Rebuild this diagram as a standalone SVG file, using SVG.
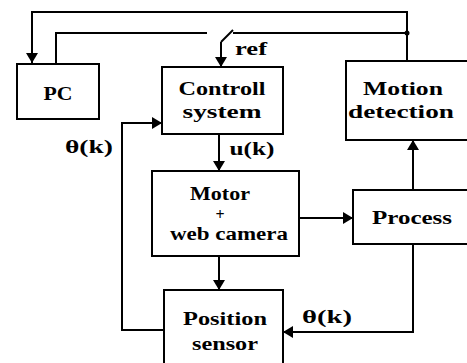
<svg xmlns="http://www.w3.org/2000/svg" width="467" height="363" viewBox="0 0 467 363">
<style>
.box{fill:#fff;stroke:#000;stroke-width:2}
.ln{fill:none;stroke:#000;stroke-width:2}
.t{font-family:"Liberation Serif","Times New Roman",serif;font-weight:bold;font-size:18px;fill:#000;text-anchor:middle}
.a{marker-end:url(#ah)}
</style>
<defs>
<marker id="ah" viewBox="0 0 10 12" refX="10" refY="6" markerWidth="10" markerHeight="12" markerUnits="userSpaceOnUse" orient="auto">
<path d="M0,0 L10,6 L0,12 z" fill="#000"/>
</marker>
</defs>
<rect width="467" height="363" fill="#fff"/>
<g id="connectors">
<path class="ln a" d="M407,61 V12 H32 V63"/>
<path class="ln" d="M56,63 V33 H207"/>
<path class="ln" d="M233,33 H407"/>
<circle cx="407" cy="33" r="2.5" fill="#000"/>
<path class="ln" d="M221,42 L233,30"/>
<path class="ln a" d="M221,42 V67"/>
<path class="ln a" d="M164,330 H122 V123 H162"/>
<path class="ln a" d="M219,134 V171"/>
<path class="ln a" d="M219,256 V290"/>
<path class="ln a" d="M299,218 H353"/>
<path class="ln a" d="M413,190 V140"/>
<path class="ln a" d="M413,244 V332 H283"/>
<text class="t" x="251" y="55" textLength="32" lengthAdjust="spacingAndGlyphs">ref</text>
<text class="t" x="89" y="153" textLength="48" lengthAdjust="spacingAndGlyphs">θ(k)</text>
<text class="t" x="252" y="155" textLength="45" lengthAdjust="spacingAndGlyphs">u(k)</text>
<text class="t" x="327" y="323" textLength="50" lengthAdjust="spacingAndGlyphs">θ(k)</text>
</g>
<g id="pc">
<rect class="box" x="17" y="64" width="82" height="55"/>
<text class="t" x="58" y="100" textLength="29" lengthAdjust="spacingAndGlyphs">PC</text>
</g>
<g id="control">
<rect class="box" x="162" y="67" width="121" height="67"/>
<text class="t" x="222" y="95" textLength="87" lengthAdjust="spacingAndGlyphs">Controll</text>
<text class="t" x="222" y="118" textLength="79" lengthAdjust="spacingAndGlyphs">system</text>
</g>
<g id="motion">
<rect class="box" x="346" y="61" width="130" height="79"/>
<text class="t" x="403" y="95" textLength="80" lengthAdjust="spacingAndGlyphs">Motion</text>
<text class="t" x="401" y="118" textLength="106" lengthAdjust="spacingAndGlyphs">detection</text>
</g>
<g id="motor">
<rect class="box" x="152" y="171" width="147" height="85"/>
<text class="t" x="220" y="200" textLength="60" lengthAdjust="spacingAndGlyphs">Motor</text>
<text class="t" x="220" y="220" style="font-size:16px">+</text>
<text class="t" x="229" y="240" textLength="118" lengthAdjust="spacingAndGlyphs">web camera</text>
</g>
<g id="process">
<rect class="box" x="353" y="190" width="130" height="54"/>
<text class="t" x="412" y="224" textLength="80" lengthAdjust="spacingAndGlyphs">Process</text>
</g>
<g id="position">
<rect class="box" x="164" y="290" width="119" height="90"/>
<text class="t" x="225" y="325" textLength="84" lengthAdjust="spacingAndGlyphs">Position</text>
<text class="t" x="225" y="350" textLength="66" lengthAdjust="spacingAndGlyphs">sensor</text>
</g>
</svg>
